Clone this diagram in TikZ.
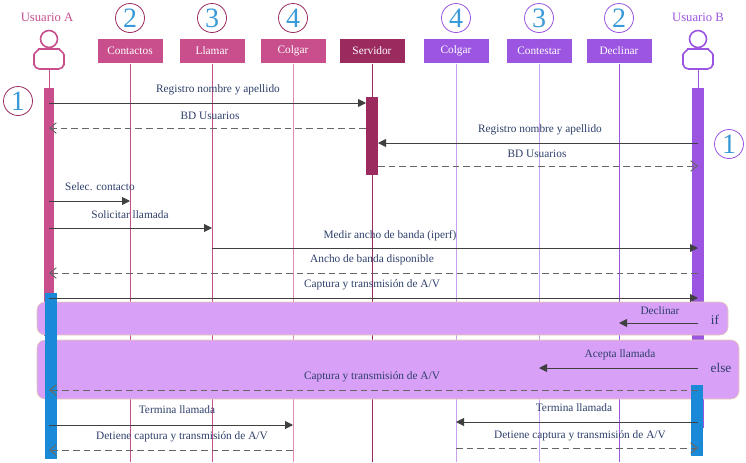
\documentclass[tikz,border=0pt]{standalone}
\usepackage{fontspec}
\setmainfont{Liberation Serif}
\usetikzlibrary{arrows.meta}
\definecolor{pk}{HTML}{C84E8C}
\definecolor{pkl}{HTML}{E08AB8}
\definecolor{srv}{HTML}{9B2A5E}
\definecolor{pu}{HTML}{9B55E0}
\definecolor{pul}{HTML}{C8A0F0}
\definecolor{bl}{HTML}{1A8AD8}
\definecolor{txt}{HTML}{2E3F6A}
\definecolor{frag}{HTML}{D9A0F8}
\definecolor{num}{HTML}{3A9AD8}
\begin{document}
\begin{tikzpicture}[x=0.75pt,y=-0.75pt,
 hdr/.style={draw=white,fill=#1,text=white,minimum width=66*0.75pt,minimum height=25*0.75pt,inner sep=0pt,font=\fontsize{8.5}{9}\selectfont},
 lbl/.style={text=txt,font=\fontsize{8.5}{9}\selectfont,inner sep=1pt},
 msg/.style={draw=black!75,line width=0.7pt,-{Triangle[length=6pt,width=6pt]}},
 ret/.style={draw=black!60,line width=0.7pt,dash pattern=on 5pt off 3pt,-{Straight Barb[length=5pt,width=8pt]}},
 nm/.style={circle,draw=#1,line width=0.6pt,minimum size=29*0.75pt,inner sep=0pt,text=num,font=\fontsize{21}{21}\selectfont},
 life/.style={draw=#1,line width=0.6pt}]
\useasboundingbox (0,0) rectangle (746,462);
% lifelines
\draw[life=pk] (130,63)--(130,462);
\draw[life=pk] (212,63)--(212,462);
\draw[life=pkl] (293,63)--(293,462);
\draw[life=srv] (372,63)--(372,462);
\draw[life=pul] (456,63)--(456,462);
\draw[life=pul] (539,63)--(539,462);
\draw[life=pu] (619,63)--(619,462);
\draw[life=pk] (49,68)--(49,90);
\draw[life=pu] (698,68)--(698,90);
% headers
\node[hdr=pk] (hc) at (130,51) {Contactos};
\node[hdr=pk] (hl) at (212,51) {Llamar};
\node[hdr=pk] (hg) at (293,51) {Colgar};
\node[hdr=srv] (hs) at (372,51) {Servidor};
\node[hdr=pu] (hg2) at (456,51) {Colgar};
\node[hdr=pu] (hct) at (539,51) {Contestar};
\node[hdr=pu] (hd) at (619,51) {Declinar};
% numbers
\node[nm=srv] (n2) at (130,18) {2};
\node[nm=srv] (n3) at (212,18) {3};
\node[nm=srv] (n4) at (293,18) {4};
\node[nm=pu] (n4b) at (456,18) {4};
\node[nm=pu] (n3b) at (539,18) {3};
\node[nm=pu] (n2b) at (619,18) {2};
\node[nm=srv] (n1) at (18,101) {1};
\node[nm=pu] (n1b) at (729,144) {1};
% actors
\node[text=pk,font=\fontsize{9.5}{10}\selectfont] (ua) at (47,17) {Usuario A};
\node[text=pu,font=\fontsize{9.5}{10}\selectfont] (ub) at (698,17) {Usuario B};
\foreach \xx/\cc in {49/pk,698/pu}{
 \draw[\cc,line width=1.2pt] (\xx,39) circle (8.5);
 \draw[\cc,line width=1.2pt,fill=white,rounded corners=4pt] (\xx-15,69) -- (\xx-15,60) .. controls (\xx-15,53) and (\xx-9,49) .. (\xx-5,49) -- (\xx+5,49) .. controls (\xx+9,49) and (\xx+15,53) .. (\xx+15,60) -- (\xx+15,69) -- cycle;
}
% activation bars
\fill[pk] (44,88) rectangle (54,336);
\fill[srv] (366,97) rectangle (378,175);
\fill[pu] (692,88) rectangle (704,428);
% fragments
\draw[draw=brown!40,fill=frag,rounded corners=6pt] (37,302) rectangle (728,335);
\draw[draw=brown!40,fill=frag,rounded corners=6pt] (37,340) rectangle (739,399);
\node[lbl,font=\fontsize{10}{10}\selectfont] (fif) at (715,320) {if};
\node[lbl,font=\fontsize{10}{10}\selectfont] (felse) at (721,368) {else};
\fill[bl] (45,293) rectangle (57,459);
\fill[bl] (691,385) rectangle (703,456);
% coordinates for messages
\coordinate (a1) at (49,103); \coordinate (s1) at (366,103);
\coordinate (s2) at (366,128); \coordinate (a2) at (49,128);
\coordinate (b3) at (698,143); \coordinate (s3) at (378,143);
\coordinate (s4) at (378,166); \coordinate (b4) at (698,166);
\coordinate (a5) at (49,201); \coordinate (c5) at (130,201);
\coordinate (a6) at (49,228); \coordinate (l6) at (212,228);
\coordinate (l7) at (212,248); \coordinate (b7) at (698,248);
\coordinate (b8) at (698,273); \coordinate (a8) at (49,273);
\coordinate (a9) at (49,298); \coordinate (b9) at (698,298);
\coordinate (b10) at (698,323); \coordinate (d10) at (619,323);
\coordinate (b11) at (698,368); \coordinate (c11) at (539,368);
\coordinate (b12) at (698,390); \coordinate (a12) at (49,390);
\coordinate (a13) at (49,425); \coordinate (g13) at (293,425);
\coordinate (b14) at (698,422); \coordinate (g14) at (456,422);
\coordinate (g15) at (293,450); \coordinate (a15) at (49,450);
\coordinate (g16) at (456,448); \coordinate (b16) at (698,448);
\draw[msg] (a1)--(s1); \node[lbl] (t1) at (218,90) {Registro nombre y apellido};
\draw[ret] (s2)--(a2); \node[lbl] (t2) at (210,116) {BD Usuarios};
\draw[msg] (b3)--(s3); \node[lbl] (t3) at (540,130) {Registro nombre y apellido};
\draw[ret] (s4)--(b4); \node[lbl] (t4) at (537,154) {BD Usuarios};
\draw[msg] (a5)--(c5); \node[lbl] (t5) at (100,187) {Selec. contacto};
\draw[msg] (a6)--(l6); \node[lbl] (t6) at (130,215) {Solicitar llamada};
\draw[msg] (l7)--(b7); \node[lbl] (t7) at (390,236) {Medir ancho de banda (iperf)};
\draw[ret] (b8)--(a8); \node[lbl] (t8) at (372,260) {Ancho de banda disponible};
\draw[msg] (a9)--(b9); \node[lbl] (t9) at (372,285) {Captura y transmisión de A/V};
\draw[msg] (b10)--(d10); \node[lbl] (t10) at (660,311) {Declinar};
\draw[msg] (b11)--(c11); \node[lbl] (t11) at (620,355) {Acepta llamada};
\draw[ret] (b12)--(a12); \node[lbl] (t12) at (372,377) {Captura y transmisión de A/V};
\draw[msg] (a13)--(g13); \node[lbl] (t13) at (177,410) {Termina llamada};
\draw[msg] (b14)--(g14); \node[lbl] (t14) at (574,408) {Termina llamada};
\draw[ret] (g15)--(a15); \node[lbl] (t15) at (182,437) {Detiene captura y transmisión de A/V};
\draw[ret] (g16)--(b16); \node[lbl] (t16) at (580,436) {Detiene captura y transmisión de A/V};
\end{tikzpicture}
\end{document}
